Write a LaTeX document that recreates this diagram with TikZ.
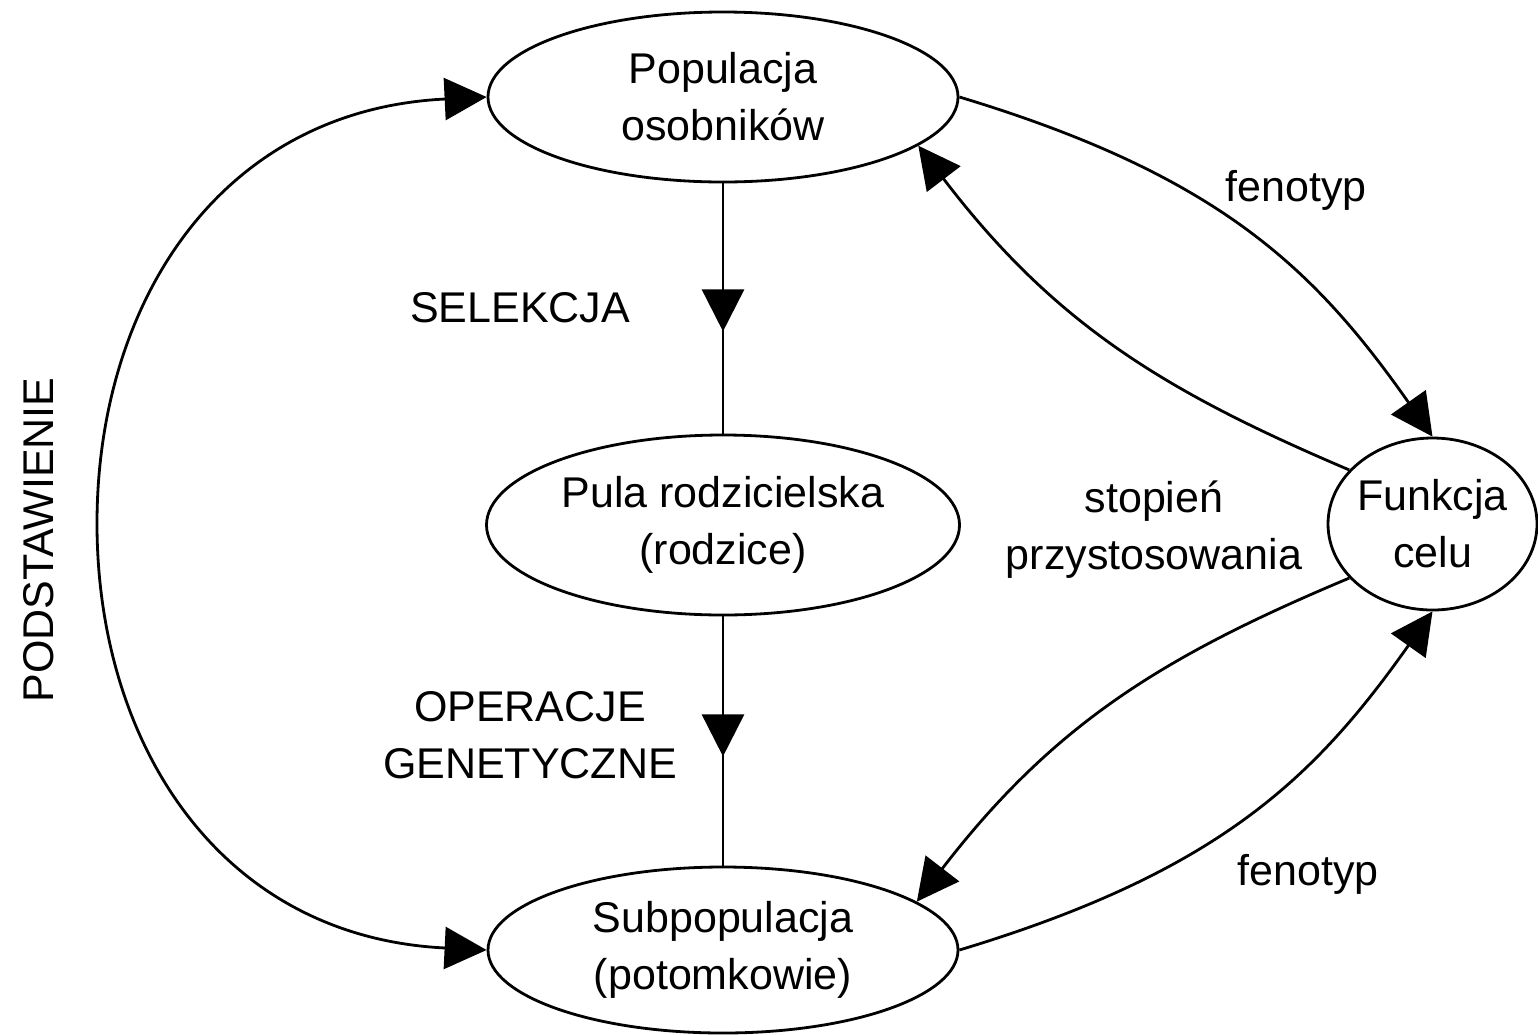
\documentclass[tikz,border=0pt]{standalone}
\usepackage{fontspec}
\setmainfont{Liberation Sans}
\usetikzlibrary{arrows.meta,shapes.geometric,decorations.markings}

\begin{document}
\begin{tikzpicture}[x=1pt,y=-1pt,
  every node/.style={font=\fontsize{43}{57}\selectfont},
  blob/.style={draw,ellipse,line width=2.8pt,inner sep=0pt,align=center},
  link/.style={line width=2.8pt},
  headtip/.style={-{Triangle[length=42pt,width=42pt]}},
  twotips/.style={{Triangle[length=42pt,width=42pt]}-{Triangle[length=42pt,width=42pt]}},
  midtip/.style={postaction={decorate},
    decoration={markings,mark=at position #1 with {\arrow{Triangle[length=42pt,width=42pt]}}}},
  note/.style={align=center,inner sep=0pt}
]
\useasboundingbox (0,0) rectangle (1538,1034);

% states of the evolutionary loop
\node[blob,minimum width=470pt,minimum height=170pt] (pop)  at (723,97)  {Populacja\\osobników};
\node[blob,minimum width=473pt,minimum height=180pt] (pula) at (723,525) {Pula rodzicielska\\(rodzice)};
\node[blob,minimum width=470pt,minimum height=166pt] (sub)  at (723,950) {Subpopulacja\\(potomkowie)};
\node[blob,inner xsep=-3pt,minimum width=209pt,minimum height=172pt] (funk) at (1432.5,524) {Funkcja\\celu};

% vertical flow
\draw[link,midtip=148pt] (pop) -- (pula);
\draw[link,midtip=140pt] (pula) -- (sub);

% replacement loop on the left
\draw[link,twotips] (sub.west) .. controls (219,937) and (97,743) .. (97,523.5)
  .. controls (97,304) and (219,110) .. (pop.west);

% evaluation links with the objective function
\draw[link,headtip] (pop.east) .. controls (1218,175) and (1314,268) .. (funk.north);
\draw[link,headtip] (funk.147) .. controls (1166,392) and (1055,325) .. (pop.-14);
\draw[link,headtip] (funk.213) .. controls (1166,655) and (1055,722) .. (sub.14);
\draw[link,headtip] (sub.east) .. controls (1218,872) and (1314,779) .. (funk.south);

% labels
\node[note] (sel) at (520,307.5) {SELEKCJA};
\node[note] (gen) at (530,735) {OPERACJE\\GENETYCZNE};
\node[note] (fit) at (1154,530) {stopień\\przystosowania};
\node[note] (fen1) at (1296,190) {fenotyp};
\node[note] (fen2) at (1308,874) {fenotyp};
\node[note,rotate=90] (repl) at (38.5,540) {PODSTAWIENIE};
\end{tikzpicture}
\end{document}
